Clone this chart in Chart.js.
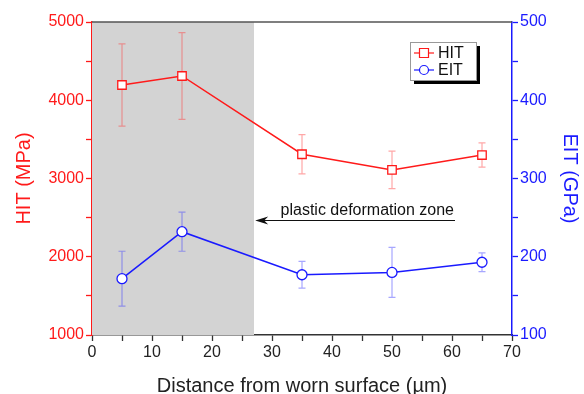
<!DOCTYPE html>
<html>
<head>
<meta charset="utf-8">
<script src="https://cdn.jsdelivr.net/npm/chart.js@4"></script>
<style>
  body { margin: 0; background: #fff; }
  #wrap { width: 584px; height: 394px; }
</style>
</head>
<body>
<div id="wrap"><canvas id="nanoChart"></canvas></div>
<script>
// distance from worn surface (um)
const distances = [5, 15, 35, 50, 65];
// hardness HIT (MPa) with error
const hitValues = [4195, 4310, 3310, 3110, 3300];
const hitErrors = [525, 555, 250, 240, 155];
// elastic modulus EIT (GPa) with error
const eitValues = [172, 232, 177, 180, 193];
const eitErrors = [35, 25, 17, 32, 12];
// shaded zone and arrow
const zoneRange = [0, 27];
const arrowFrom = 60.5, arrowTo = 27.2, arrowHit = 2470;
const zoneLabel = 'plastic deformation zone';

const FONT = '"Liberation Sans", Arial, sans-serif';
const RED = '#ff1a1a';
const BLUE = '#1a1aff';

const toPoints = (ys) => distances.map((x, i) => ({ x: x, y: ys[i] }));

// shaded box behind the data
const zonePlugin = {
  id: 'zone',
  beforeDatasetsDraw(chart) {
    const { ctx, chartArea, scales } = chart;
    const x0 = scales.x.getPixelForValue(zoneRange[0]);
    const x1 = scales.x.getPixelForValue(zoneRange[1]);
    ctx.save();
    ctx.fillStyle = '#d3d3d3';
    ctx.fillRect(x0, chartArea.top, x1 - x0, chartArea.bottom - chartArea.top);
    // top frame line
    ctx.strokeStyle = '#555';
    ctx.lineWidth = 1.5;
    ctx.beginPath();
    ctx.moveTo(chartArea.left, chartArea.top);
    ctx.lineTo(chartArea.right, chartArea.top);
    ctx.stroke();
    ctx.restore();
  }
};

// error bars, arrow and legend
const extrasPlugin = {
  id: 'extras',
  beforeDatasetsDraw(chart) {
    const { ctx, scales } = chart;
    const sets = [
      { vals: hitValues, errs: hitErrors, axis: scales.yHit, color: 'rgba(255,60,60,0.45)' },
      { vals: eitValues, errs: eitErrors, axis: scales.yEit, color: 'rgba(60,60,255,0.45)' }
    ];
    ctx.save();
    ctx.lineWidth = 1.2;
    sets.forEach(s => {
      ctx.strokeStyle = s.color;
      distances.forEach((d, i) => {
        const px = scales.x.getPixelForValue(d);
        const top = s.axis.getPixelForValue(s.vals[i] + s.errs[i]);
        const bot = s.axis.getPixelForValue(s.vals[i] - s.errs[i]);
        ctx.beginPath();
        ctx.moveTo(px, top); ctx.lineTo(px, bot);
        ctx.moveTo(px - 3.5, top); ctx.lineTo(px + 3.5, top);
        ctx.moveTo(px - 3.5, bot); ctx.lineTo(px + 3.5, bot);
        ctx.stroke();
      });
    });
    ctx.restore();
  },
  afterDatasetsDraw(chart) {
    const { ctx, scales } = chart;
    // arrow
    const ax0 = scales.x.getPixelForValue(arrowFrom);
    const ax1 = scales.x.getPixelForValue(arrowTo);
    const ay = Math.round(scales.yHit.getPixelForValue(arrowHit)) + 0.5;
    ctx.save();
    ctx.strokeStyle = '#111';
    ctx.fillStyle = '#111';
    ctx.lineWidth = 1.2;
    ctx.beginPath();
    ctx.moveTo(ax0, ay); ctx.lineTo(ax1 + 4, ay);
    ctx.stroke();
    ctx.beginPath();
    ctx.moveTo(ax1, ay);
    ctx.lineTo(ax1 + 13, ay - 4);
    ctx.lineTo(ax1 + 9, ay);
    ctx.lineTo(ax1 + 13, ay + 4);
    ctx.closePath();
    ctx.fill();
    ctx.font = '16px ' + FONT;
    ctx.textAlign = 'right';
    ctx.textBaseline = 'alphabetic';
    ctx.fillText(zoneLabel, ax0 - 1, ay - 6);

    // legend box with shadow
    const lx = 410, ly = 42, lw = 66, lh = 38;
    ctx.fillStyle = '#000';
    ctx.fillRect(lx + 4, ly + 4, lw, lh);
    ctx.fillStyle = '#fff';
    ctx.fillRect(lx, ly, lw, lh);
    ctx.strokeStyle = '#999';
    ctx.lineWidth = 1;
    ctx.strokeRect(lx + 0.5, ly + 0.5, lw, lh);
    const rows = [
      { label: chart.data.datasets[0].label, color: RED, shape: 'rect', y: ly + 11 },
      { label: chart.data.datasets[1].label, color: BLUE, shape: 'circle', y: ly + 28 }
    ];
    rows.forEach(r => {
      ctx.strokeStyle = r.color;
      ctx.lineWidth = 1.2;
      ctx.beginPath();
      ctx.moveTo(lx + 4, r.y); ctx.lineTo(lx + 24, r.y);
      ctx.stroke();
      ctx.fillStyle = '#fff';
      ctx.beginPath();
      if (r.shape === 'rect') {
        ctx.rect(lx + 9.5, r.y - 4.5, 9, 9);
      } else {
        ctx.arc(lx + 14, r.y, 4.5, 0, Math.PI * 2);
      }
      ctx.fill(); ctx.stroke();
      ctx.fillStyle = '#111';
      ctx.font = '16px ' + FONT;
      ctx.textAlign = 'left';
      ctx.textBaseline = 'middle';
      ctx.fillText(r.label, lx + 28, r.y + 1);
    });
    ctx.restore();
  }
};

new Chart(document.getElementById('nanoChart'), {
  type: 'line',
  data: {
    datasets: [{
      label: 'HIT',
      data: toPoints(hitValues),
      yAxisID: 'yHit',
      borderColor: RED,
      borderWidth: 1.5,
      pointStyle: 'rect',
      pointRadius: 6,
      pointBorderWidth: 1.3,
      pointBackgroundColor: '#fff',
      pointBorderColor: RED
    }, {
      label: 'EIT',
      data: toPoints(eitValues),
      yAxisID: 'yEit',
      borderColor: BLUE,
      borderWidth: 1.5,
      pointStyle: 'circle',
      pointRadius: 5,
      pointBorderWidth: 1.3,
      pointBackgroundColor: '#fff',
      pointBorderColor: BLUE
    }]
  },
  options: {
    responsive: true,
    maintainAspectRatio: false,
    animation: false,
    layout: { padding: { top: 22, left: 0, right: 0, bottom: 0 } },
    plugins: { legend: { display: false }, tooltip: { enabled: false } },
    scales: {
      x: {
        type: 'linear',
        min: 0, max: 70,
        grid: { drawOnChartArea: false, tickLength: 6, tickColor: '#333', tickWidth: 1.3 },
        border: { color: '#333', width: 1.5 },
        ticks: {
          stepSize: 5,
          autoSkip: false,
          maxRotation: 0,
          color: '#222',
          padding: 2,
          font: { family: FONT, size: 16 },
          callback: v => (v % 10 === 0 ? v : '')
        },
        title: {
          display: true,
          text: 'Distance from worn surface (µm)',
          color: '#222',
          font: { family: FONT, size: 20 },
          padding: { top: 12, bottom: -4 }
        },
        afterFit: s => { s.height = 59; }
      },
      yHit: {
        position: 'left',
        min: 1000, max: 5000,
        grid: { drawOnChartArea: false, tickLength: 6, tickColor: RED, tickWidth: 1.3 },
        border: { color: RED, width: 1.5 },
        ticks: {
          stepSize: 500,
          color: RED,
          padding: 2,
          font: { family: FONT, size: 16 },
          callback: v => (v % 1000 === 0 ? v : '')
        },
        title: {
          display: true,
          text: 'HIT (MPa)',
          color: RED,
          font: { family: FONT, size: 20 },
          padding: { top: 12, bottom: 0 }
        },
        afterFit: s => { s.width = 92; }
      },
      yEit: {
        position: 'right',
        min: 100, max: 500,
        grid: { drawOnChartArea: false, tickLength: 6, tickColor: BLUE, tickWidth: 1.3 },
        border: { color: BLUE, width: 1.5 },
        ticks: {
          stepSize: 50,
          color: BLUE,
          padding: 2,
          font: { family: FONT, size: 16 },
          callback: v => (v % 100 === 0 ? v : '')
        },
        title: {
          display: true,
          text: 'EIT (GPa)',
          color: BLUE,
          font: { family: FONT, size: 20 },
          padding: { top: 2, bottom: 0 }
        },
        afterFit: s => { s.width = 72; }
      }
    }
  },
  plugins: [zonePlugin, extrasPlugin]
});
</script>
</body>
</html>
